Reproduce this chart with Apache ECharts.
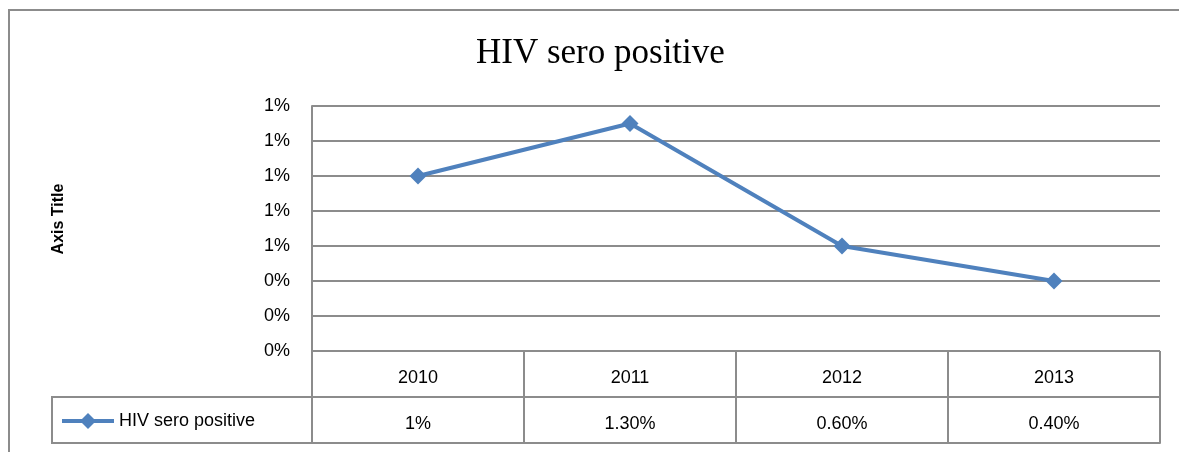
<!DOCTYPE html>
<html>
<head>
<meta charset="utf-8">
<script src="https://cdn.jsdelivr.net/npm/echarts@6/dist/echarts.min.js"></script>
<style>
  html, body { margin: 0; padding: 0; background: #fff; }
  #chart { width: 1179px; height: 452px; }
</style>
</head>
<body>
<div id="chart"></div>
<script>
const years = ['2010', '2011', '2012', '2013']
const hivValues = [1.0, 1.3, 0.6, 0.4]
const tableText = ['1%', '1.30%', '0.60%', '0.40%']
const tableRows = ['values', 'years']

const gridColor = '#8c8c8c'
const lineColor = '#4f81bd'
const labelFont = 'Liberation Sans'

const chart = echarts.init(document.getElementById('chart'))

// text cells of the data table
const cellLabel = {
  show: true,
  position: 'inside',
  offset: [0, 4],
  formatter: p => p.data[2],
  fontFamily: labelFont,
  fontSize: 18,
  color: '#000',
  textBorderWidth: 0,
  opacity: 1
}

const option = {
  animation: false,
  title: {
    text: 'HIV sero positive',
    left: 471,
    top: 31,
    textStyle: {
      fontFamily: 'Liberation Serif',
      fontSize: 35,
      fontWeight: 'normal',
      color: '#000'
    }
  },
  legend: {
    left: 55,
    top: 407,
    itemWidth: 52,
    itemHeight: 20,
    textStyle: { fontFamily: labelFont, fontSize: 18, color: '#000' },
    lineStyle: { width: 4 },
    data: ['HIV sero positive']
  },
  grid: [
    { left: 312, right: 19, top: 106, bottom: 101 },
    { left: 312, right: 19, top: 351, bottom: 9 }
  ],
  xAxis: [
    {
      gridIndex: 0,
      type: 'category',
      data: years,
      boundaryGap: true,
      axisLine: { show: false },
      axisTick: { show: false },
      axisLabel: { show: false }
    },
    {
      gridIndex: 1,
      type: 'category',
      data: years,
      boundaryGap: true,
      axisLine: { show: true, lineStyle: { color: gridColor, width: 2 } },
      axisTick: { show: false },
      axisLabel: { show: false },
      splitLine: { show: true, lineStyle: { color: gridColor, width: 2 } }
    }
  ],
  yAxis: [
    {
      gridIndex: 0,
      type: 'value',
      min: 0,
      max: 1.4,
      interval: 0.2,
      axisLine: { show: true, lineStyle: { color: gridColor, width: 2 } },
      axisTick: { show: false },
      axisLabel: {
        margin: 22,
        fontFamily: labelFont,
        fontSize: 18,
        color: '#000',
        formatter: v => Math.round(v) + '%'
      },
      splitLine: { show: true, lineStyle: { color: gridColor, width: 2 } }
    },
    {
      gridIndex: 1,
      type: 'category',
      data: tableRows,
      axisLine: { show: true, lineStyle: { color: gridColor, width: 2 } },
      axisTick: { show: false },
      axisLabel: { show: false },
      splitLine: { show: true, lineStyle: { color: gridColor, width: 2 } }
    }
  ],
  graphic: [
    {
      type: 'rect',
      shape: { x: 9, y: 10, width: 1200, height: 500 },
      style: { fill: 'none', stroke: gridColor, lineWidth: 2 },
      silent: true,
      z: -1
    },
    {
      type: 'rect',
      shape: { x: 52, y: 397, width: 260, height: 46 },
      style: { fill: 'none', stroke: gridColor, lineWidth: 2 },
      silent: true
    },
    {
      type: 'text',
      x: 59,
      y: 219,
      rotation: Math.PI / 2,
      style: {
        text: 'Axis Title',
        fontFamily: labelFont,
        fontSize: 16,
        fontWeight: 'bold',
        fill: '#000',
        align: 'center',
        verticalAlign: 'middle'
      }
    }
  ],
  series: [
    {
      name: 'HIV sero positive',
      type: 'line',
      xAxisIndex: 0,
      yAxisIndex: 0,
      data: hivValues,
      symbol: 'diamond',
      symbolSize: 17,
      lineStyle: { color: lineColor, width: 4 },
      itemStyle: { color: lineColor }
    },
    {
      name: 'yearsRow',
      type: 'scatter',
      xAxisIndex: 1,
      yAxisIndex: 1,
      symbolSize: 0,
      itemStyle: { opacity: 1 },
      data: years.map((y, i) => [i, 1, y]),
      label: cellLabel
    },
    {
      name: 'valuesRow',
      type: 'scatter',
      xAxisIndex: 1,
      yAxisIndex: 1,
      symbolSize: 0,
      itemStyle: { opacity: 1 },
      data: tableText.map((t, i) => [i, 0, t]),
      label: cellLabel
    }
  ]
}

chart.setOption(option)
</script>
</body>
</html>
